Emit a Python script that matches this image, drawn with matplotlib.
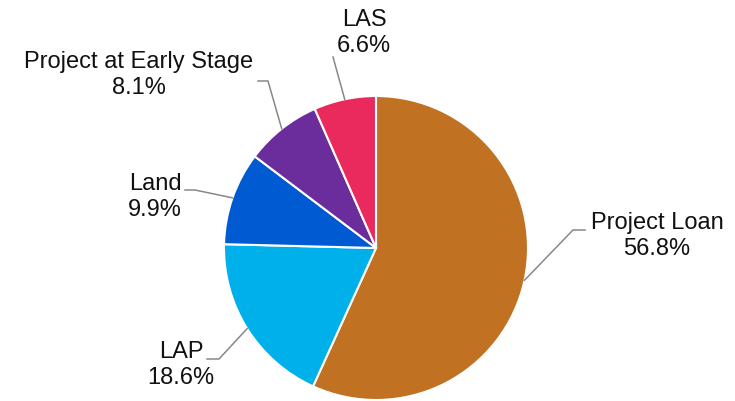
import numpy as np
import matplotlib.pyplot as plt

plt.rcParams['font.family'] = ['Liberation Sans', 'DejaVu Sans']

labels = ['Project Loan', 'LAP', 'Land', 'Project at Early Stage', 'LAS']
shares = [56.8, 18.6, 9.9, 8.1, 6.6]
colors = ['#C07222', '#00B0EA', '#005AD2', '#6B2D9B', '#EA2A5C']

# label layout (pixels, y measured from top): text anchor, elbow point, line end
label_pos = [(657, 236), (181, 365), (155, 197), (139, 75), (364, 33)]
elbows = [(573, 231), (219, 360), (195, 191), (268, 82), (333, 58)]
ends = [(585, 231), (207, 360), (185, 191), (258, 82), (333, 58)]

W, H = 735, 402
cx, cy, r = 376, 153, 152

fig = plt.figure(figsize=(W / 100, H / 100), dpi=100)
ax = fig.add_axes([0, 0, 1, 1])

wedges, _ = ax.pie(shares, colors=colors, startangle=90, counterclock=False,
                   center=(cx, cy), radius=r, frame=True,
                   wedgeprops=dict(edgecolor='white', linewidth=1.5))
ax.set_xlim(0, W)
ax.set_ylim(0, H)
ax.set_aspect('equal')
ax.axis('off')

for w, lab, val, tp, el, en in zip(wedges, labels, shares, label_pos, elbows, ends):
    ang = np.deg2rad((w.theta1 + w.theta2) / 2)
    px, py = cx + r * np.cos(ang), cy + r * np.sin(ang)
    xs = [px, el[0], en[0]]
    ys = [py, H - el[1], H - en[1]]
    ax.plot(xs, ys, color='#888888', lw=1.1, solid_joinstyle='miter')
    ax.text(tp[0], H - tp[1], f'{lab}\n{val:.1f}%', ha='center', va='center',
            fontsize=17, color='#111111', linespacing=1.25)

fig.savefig('out.png', dpi=100)
